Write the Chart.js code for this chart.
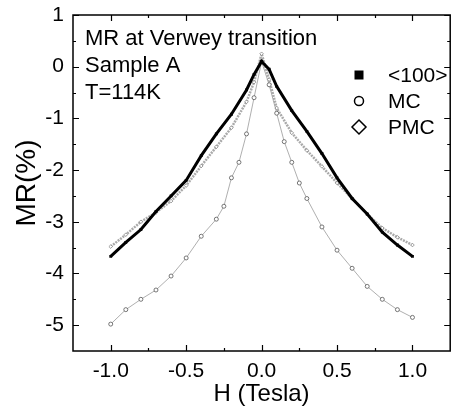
<!DOCTYPE html>
<html>
<head>
<meta charset="utf-8">
<script src="https://cdn.jsdelivr.net/npm/chart.js@4.4.1/dist/chart.umd.min.js"></script>
<style>
    html, body { margin: 0; padding: 0; background: #fff; }
    #wrap { width: 455px; height: 409px; }
</style>
</head>
<body>
<div id="wrap"><canvas id="mr"></canvas></div>
<script>
// values
const h100 = [-1.0, -0.9, -0.8, -0.7, -0.6, -0.5, -0.4, -0.3, -0.2, -0.1, -0.05, 0.0, 0.05, 0.1, 0.2, 0.3, 0.4, 0.5, 0.6, 0.7, 0.8, 0.9, 1.0];
const mr100 = [-3.67, -3.4, -3.15, -2.8, -2.5, -2.2, -1.72, -1.3, -0.92, -0.45, -0.15, 0.1, -0.05, -0.38, -0.85, -1.25, -1.68, -2.15, -2.55, -2.85, -3.2, -3.45, -3.67];

const hMC = [-1.0, -0.9, -0.8, -0.7, -0.6, -0.5, -0.4, -0.3, -0.25, -0.2, -0.15, -0.1, -0.05, 0.0, 0.05, 0.1, 0.15, 0.2, 0.25, 0.3, 0.4, 0.5, 0.6, 0.7, 0.8, 0.9, 1.0];
const mrMC = [-4.98, -4.7, -4.5, -4.32, -4.05, -3.7, -3.28, -2.95, -2.7, -2.15, -1.85, -1.3, -0.6, 0.1, -0.35, -0.9, -1.45, -1.85, -2.25, -2.55, -3.1, -3.55, -3.9, -4.25, -4.5, -4.7, -4.85];

const hPMC = [-1.0, -0.9, -0.8, -0.7, -0.6, -0.5, -0.4, -0.3, -0.2, -0.1, -0.05, 0.0, 0.05, 0.1, 0.2, 0.3, 0.4, 0.5, 0.6, 0.7, 0.8, 0.9, 1.0];
const mrPMC = [-3.48, -3.25, -3.0, -2.82, -2.6, -2.3, -1.92, -1.55, -1.18, -0.68, -0.3, 0.25, -0.25, -0.8, -1.28, -1.62, -1.93, -2.25, -2.55, -2.85, -3.12, -3.3, -3.45];

const xMajor = [-1.0, -0.5, 0.0, 0.5, 1.0];
const xMinor = [-0.75, -0.25, 0.25, 0.75];
const yMajor = [1, 0, -1, -2, -3, -4, -5];
const yMinor = [0.5, -0.5, -1.5, -2.5, -3.5, -4.5];

const seriesNames = ["<100>", "MC", "PMC"];
const notes = ["MR at Verwey transition", "Sample A", "T=114K"];

const FONT = "'Liberation Sans', Arial, Helvetica, sans-serif";

const toXY = (xs, ys) => xs.map((x, i) => ({ x: x, y: ys[i] }));

// frame, inward ticks, notes and legend
const framePlugin = {
    id: "frame",
    afterDraw(chart) {
        const ctx = chart.ctx;
        const a = chart.chartArea;
        const xs = chart.scales.x, ys = chart.scales.y;
        ctx.save();
        ctx.strokeStyle = "#000";
        ctx.lineWidth = 1.5;
        ctx.strokeRect(a.left, a.top, a.right - a.left, a.bottom - a.top);

        ctx.lineWidth = 1.2;
        ctx.beginPath();
        const tickX = (vals, len) => vals.forEach(v => {
            const p = Math.round(xs.getPixelForValue(v)) + 0.5;
            ctx.moveTo(p, a.bottom); ctx.lineTo(p, a.bottom - len);
            ctx.moveTo(p, a.top); ctx.lineTo(p, a.top + len);
        });
        const tickY = (vals, len) => vals.forEach(v => {
            const p = Math.round(ys.getPixelForValue(v)) + 0.5;
            ctx.moveTo(a.left, p); ctx.lineTo(a.left + len, p);
            ctx.moveTo(a.right, p); ctx.lineTo(a.right - len, p);
        });
        tickX(xMajor, 6); tickX(xMinor, 3);
        tickY(yMajor, 6); tickY(yMinor, 3);
        ctx.stroke();

        // notes top-left
        ctx.fillStyle = "#000";
        ctx.font = "22px " + FONT;
        ctx.textBaseline = "middle";
        ctx.textAlign = "left";
        notes.forEach((t, i) => ctx.fillText(t, a.left + 12, a.top + 24 + i * 27));

        // legend top-right
        const lx = 359, ly = 75;
        ctx.font = "21px " + FONT;
        chart.data.datasets.forEach((ds, i) => {
            const y = ly + i * 26;
            ctx.lineWidth = 1.5;
            ctx.strokeStyle = "#000";
            if (i === 0) {
                ctx.fillRect(lx - 4.5, y - 4.5, 9, 9);
            } else if (i === 1) {
                ctx.beginPath(); ctx.arc(lx, y, 4.5, 0, Math.PI * 2); ctx.stroke();
            } else {
                ctx.beginPath();
                ctx.moveTo(lx, y - 7); ctx.lineTo(lx + 7, y); ctx.lineTo(lx, y + 7); ctx.lineTo(lx - 7, y);
                ctx.closePath(); ctx.stroke();
            }
            ctx.fillText(ds.label, lx + 29, y + 1);
        });
        ctx.restore();
    }
};

new Chart(document.getElementById("mr"), {
    type: "scatter",
    data: {
        datasets: [
            {
                label: seriesNames[0],
                data: toXY(h100, mr100),
                showLine: true,
                borderColor: "#000",
                borderWidth: 3,
                backgroundColor: "#000",
                pointStyle: "rect",
                pointRadius: 2,
                pointBorderWidth: 0
            },
            {
                label: seriesNames[1],
                data: toXY(hMC, mrMC),
                showLine: true,
                borderColor: "#9a9a9a",
                borderWidth: 0.8,
                backgroundColor: "#fff",
                pointStyle: "circle",
                pointRadius: 2,
                pointBorderColor: "#555",
                pointBorderWidth: 0.8
            },
            {
                label: seriesNames[2],
                data: toXY(hPMC, mrPMC),
                showLine: true,
                borderColor: "#aaaaaa",
                borderWidth: 2.5,
                borderDash: [2, 1],
                backgroundColor: "#fff",
                pointStyle: "rectRot",
                pointRadius: 1.8,
                pointBorderColor: "#777",
                pointBorderWidth: 0.7
            }
        ]
    },
    options: {
        responsive: true,
        maintainAspectRatio: false,
        animation: false,
        layout: { padding: { top: 15, right: 0, left: 0, bottom: 0 } },
        plugins: {
            legend: { display: false },
            tooltip: { enabled: false }
        },
        scales: {
            x: {
                type: "linear",
                min: -1.25,
                max: 1.25,
                grid: { display: false, drawTicks: false },
                border: { display: false },
                afterBuildTicks: s => { s.ticks = xMajor.map(v => ({ value: v })); },
                ticks: {
                    padding: 8,
                    color: "#000",
                    font: { family: FONT, size: 21 },
                    callback: v => v.toFixed(1)
                },
                title: {
                    display: true,
                    text: "H (Tesla)",
                    color: "#000",
                    font: { family: FONT, size: 24 },
                    padding: { top: 1, bottom: 0 }
                },
                afterFit: s => { s.height = 58; s.paddingLeft = 0; s.paddingRight = 0; }
            },
            y: {
                type: "linear",
                min: -5.5,
                max: 1,
                grid: { display: false, drawTicks: false },
                border: { display: false },
                afterBuildTicks: s => { s.ticks = yMajor.map(v => ({ value: v })); },
                ticks: {
                    padding: 9,
                    color: "#000",
                    font: { family: FONT, size: 21 },
                    callback: v => String(v)
                },
                title: {
                    display: true,
                    text: "MR(%)",
                    color: "#000",
                    font: { family: FONT, size: 28 },
                    padding: { top: 10, bottom: 0 }
                },
                afterFit: s => { s.width = 73; s.paddingTop = 0; s.paddingBottom = 0; }
            }
        }
    },
    plugins: [framePlugin]
});
</script>
</body>
</html>
